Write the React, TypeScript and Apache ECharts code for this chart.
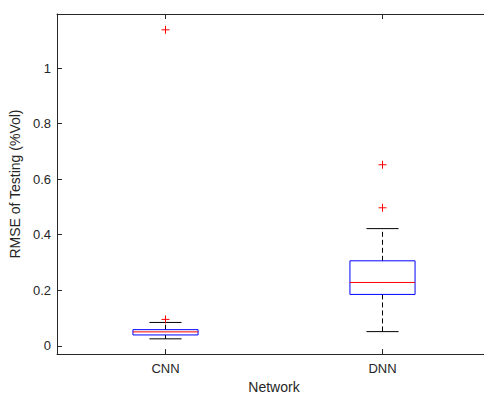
import React, { useEffect, useRef } from "react";
import * as echarts from "echarts";

const categories = ["CNN", "DNN"];
const lowerWhisker = [0.025, 0.051];
const q1 = [0.039, 0.185];
const median = [0.05, 0.228];
const q3 = [0.058, 0.306];
const upperWhisker = [0.084, 0.422];
const outliers = [
  [1.138, 0.095],
  [0.652, 0.497],
];
const yTicks = [0, 0.2, 0.4, 0.6, 0.8, 1];

const AXIS = "#262626";
const FONT = "'Liberation Sans', Arial, Helvetica, sans-serif";

export default function App() {
  const ref = useRef<HTMLDivElement>(null);
  useEffect(() => {
    document.body.style.margin = "0";
    if (!ref.current) return;
    const chart = echarts.init(ref.current, undefined, { renderer: "svg" });
    const boxData = categories.map((_, i) => [
      i,
      lowerWhisker[i],
      q1[i],
      median[i],
      q3[i],
      upperWhisker[i],
    ]);
    const outlierData: number[][] = [];
    outliers.forEach((arr, i) => arr.forEach((v) => outlierData.push([i, v])));

    chart.setOption({
      animation: false,
      backgroundColor: "#ffffff",
      textStyle: { fontFamily: FONT },
      grid: { show: false, borderWidth: 0, left: 57, top: 14, width: 434, height: 342.5 },
      xAxis: [
        {
          type: "category",
          data: categories,
          boundaryGap: true,
          position: "bottom",
          name: "Network",
          nameLocation: "middle",
          nameGap: 25,
          nameTextStyle: { color: AXIS, fontSize: 14, fontFamily: FONT },
          axisLine: { show: true, onZero: false, lineStyle: { color: AXIS, width: 1 } },
          axisTick: { show: true, inside: true, alignWithLabel: true, length: 5, lineStyle: { color: AXIS } },
          axisLabel: { color: AXIS, fontSize: 13, margin: 8, fontFamily: FONT },
          splitLine: { show: false },
        },
        {
          type: "category",
          data: categories,
          position: "top",
          boundaryGap: true,
          axisLine: { show: true, onZero: false, lineStyle: { color: AXIS, width: 1 } },
          axisTick: { show: true, inside: true, alignWithLabel: true, length: 5, lineStyle: { color: AXIS } },
          axisLabel: { show: false },
          splitLine: { show: false },
        },
      ],
      yAxis: {
        type: "value",
        min: -0.03,
        max: 1.195,
        position: "left",
        name: "RMSE of Testing (%Vol)",
        nameLocation: "middle",
        nameGap: 28,
        nameRotate: 90,
        nameTextStyle: { color: AXIS, fontSize: 14, fontFamily: FONT },
        axisLine: { show: true, onZero: false, lineStyle: { color: AXIS, width: 1 } },
        axisTick: { show: true, inside: true, length: 5, customValues: yTicks, lineStyle: { color: AXIS } },
        axisLabel: {
          color: AXIS,
          fontSize: 13,
          margin: 6,
          fontFamily: FONT,
          customValues: yTicks,
          formatter: (v: number) => String(v),
        },
        splitLine: { show: false },
      },
      series: [
        {
          type: "custom",
          xAxisIndex: 0,
          data: boxData,
          renderItem: (params: any, api: any) => {
            const x = api.value(0);
            const pLw = api.coord([x, api.value(1)]);
            const pQ1 = api.coord([x, api.value(2)]);
            const pMed = api.coord([x, api.value(3)]);
            const pQ3 = api.coord([x, api.value(4)]);
            const pUw = api.coord([x, api.value(5)]);
            const band = api.size([1, 0])[0];
            const cx = pMed[0];
            const hb = band * 0.15;
            const hc = band * 0.074;
            const dash = { stroke: "#000", lineWidth: 1, lineDash: [5, 3] };
            const solid = { stroke: "#000", lineWidth: 1 };
            return {
              type: "group",
              children: [
                { type: "line", shape: { x1: cx, y1: pQ3[1], x2: cx, y2: pUw[1] }, style: dash },
                { type: "line", shape: { x1: cx, y1: pQ1[1], x2: cx, y2: pLw[1] }, style: dash },
                { type: "line", shape: { x1: cx - hc, y1: pUw[1], x2: cx + hc, y2: pUw[1] }, style: solid },
                { type: "line", shape: { x1: cx - hc, y1: pLw[1], x2: cx + hc, y2: pLw[1] }, style: solid },
                {
                  type: "rect",
                  shape: { x: cx - hb, y: pQ3[1], width: 2 * hb, height: pQ1[1] - pQ3[1] },
                  style: { fill: "none", stroke: "#0000ff", lineWidth: 1 },
                },
                {
                  type: "line",
                  shape: { x1: cx - hb, y1: pMed[1], x2: cx + hb, y2: pMed[1] },
                  style: { stroke: "#ff0000", lineWidth: 1 },
                },
              ],
            };
          },
        },
        {
          type: "custom",
          xAxisIndex: 0,
          data: outlierData,
          renderItem: (params: any, api: any) => {
            const p = api.coord([api.value(0), api.value(1)]);
            const s = 4;
            const st = { stroke: "#ff0000", lineWidth: 1 };
            return {
              type: "group",
              children: [
                { type: "line", shape: { x1: p[0] - s, y1: p[1], x2: p[0] + s, y2: p[1] }, style: st },
                { type: "line", shape: { x1: p[0], y1: p[1] - s, x2: p[0], y2: p[1] + s }, style: st },
              ],
            };
          },
        },
      ],
    });
    return () => chart.dispose();
  }, []);
  return (
    <div style={{ width: 484, height: 399, overflow: "hidden", position: "relative" }}>
      <div ref={ref} style={{ width: 500, height: 399 }} />
    </div>
  );
}
